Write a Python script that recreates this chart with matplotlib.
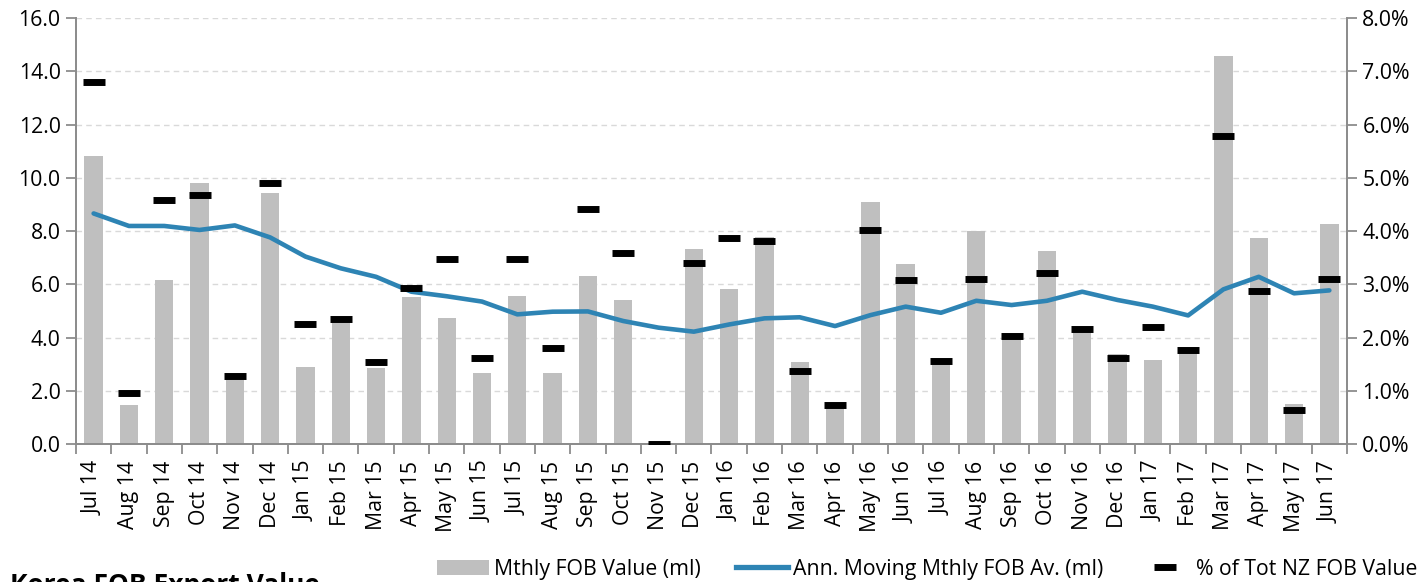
import numpy as np
import matplotlib.pyplot as plt
from matplotlib.lines import Line2D
from matplotlib.patches import Patch

plt.rcParams['font.family'] = ['Open Sans', 'DejaVu Sans']

months = ['Jul 14', 'Aug 14', 'Sep 14', 'Oct 14', 'Nov 14', 'Dec 14',
          'Jan 15', 'Feb 15', 'Mar 15', 'Apr 15', 'May 15', 'Jun 15',
          'Jul 15', 'Aug 15', 'Sep 15', 'Oct 15', 'Nov 15', 'Dec 15',
          'Jan 16', 'Feb 16', 'Mar 16', 'Apr 16', 'May 16', 'Jun 16',
          'Jul 16', 'Aug 16', 'Sep 16', 'Oct 16', 'Nov 16', 'Dec 16',
          'Jan 17', 'Feb 17', 'Mar 17', 'Apr 17', 'May 17', 'Jun 17']

# monthly FOB value (ml)
mthly = [10.83, 1.45, 6.16, 9.82, 2.50, 9.42,
         2.89, 4.66, 2.85, 5.52, 4.73, 2.68,
         5.56, 2.65, 6.31, 5.41, 0.0, 7.31,
         5.83, 7.77, 3.09, 1.55, 9.09, 6.77,
         3.19, 7.99, 4.18, 7.26, 4.31, 3.38,
         3.15, 3.66, 14.57, 7.74, 1.50, 8.26]

# annual moving monthly average (ml)
moving = [8.66, 8.19, 8.19, 8.04, 8.21, 7.76,
          7.04, 6.60, 6.28, 5.72, 5.55, 5.35,
          4.87, 4.97, 4.98, 4.62, 4.37, 4.22,
          4.49, 4.72, 4.76, 4.43, 4.84, 5.16,
          4.93, 5.38, 5.22, 5.38, 5.72, 5.41,
          5.16, 4.83, 5.81, 6.28, 5.66, 5.77]

# % of total NZ FOB value
pct = [6.79, 0.95, 4.58, 4.67, 1.27, 4.91,
       2.25, 2.35, 1.54, 2.93, 3.47, 1.61,
       3.48, 1.80, 4.42, 3.58, 0.0, 3.40,
       3.86, 3.81, 1.38, 0.74, 4.02, 3.08,
       1.55, 3.09, 2.02, 3.21, 2.16, 1.62,
       2.20, 1.76, 5.78, 2.88, 0.64, 3.10]

bar_col = '#bfbfbf'
line_col = '#2e84b4'
axis_col = '#8c8c8c'
fs = 15.3

fig = plt.figure(figsize=(14.2, 5.82), dpi=100)
ax = fig.add_axes([0.0535, 0.2371, 0.8951, 0.7319])
ax2 = ax.twinx()

x = np.arange(len(months))
ax.bar(x, mthly, width=0.52, color=bar_col, zorder=2)
ax.plot(x, moving, color=line_col, lw=3.3, solid_capstyle='round', zorder=3)
ax2.plot(x, pct, linestyle='none', marker='_', markersize=16,
         markeredgewidth=5, color='black', zorder=4)

ax.set_xlim(-0.5, len(months) - 0.5)
ax.set_ylim(0, 16)
ax2.set_ylim(0, 8)
ax.set_yticks(np.arange(0, 16.1, 2))
ax.set_yticklabels(['%.1f' % v for v in np.arange(0, 16.1, 2)])
ax2.set_yticks(np.arange(0, 8.1, 1))
ax2.set_yticklabels(['%.1f%%' % v for v in np.arange(0, 8.1, 1)])

ax.set_xticks(x)
ax.set_xticklabels(months, rotation=90, fontsize=fs)
ax.set_xticks(np.arange(-0.5, len(months), 1), minor=True)
ax.tick_params(axis='x', which='major', length=0, pad=12)
ax.tick_params(axis='x', which='minor', length=7, color=axis_col, width=1.3)
ax.tick_params(axis='y', length=7, color=axis_col, width=1.3, labelsize=fs, pad=4)
ax2.tick_params(axis='y', length=7, color=axis_col, width=1.3, labelsize=fs, pad=4)

ax.yaxis.grid(True, linestyle=(0, (4, 3)), color='#d9d9d9', lw=1)
ax.set_axisbelow(True)

for a in (ax, ax2):
    a.spines['top'].set_visible(False)
    for s in ('left', 'right', 'bottom'):
        a.spines[s].set_color(axis_col)
        a.spines[s].set_linewidth(1.3)

handles = [Patch(facecolor=bar_col),
           Line2D([], [], color=line_col, lw=3.8),
           Line2D([], [], linestyle='none', marker='_', markersize=16,
                  markeredgewidth=5, color='black')]
labels = ['Mthly FOB Value (ml)', 'Ann. Moving Mthly FOB Av. (ml)',
          '% of Tot NZ FOB Value']
fig.legend(handles, labels, loc='center left', ncol=3, frameon=False,
           bbox_to_anchor=(0.3, 0.022), fontsize=fs, handlelength=2.45,
           handletextpad=0.25, columnspacing=1.65, borderpad=0)

fig.text(0.007, 0.018, 'Korea FOB Export Value', fontsize=19,
         fontweight='bold', va='top', ha='left')

fig.savefig('out.png', dpi=100)
